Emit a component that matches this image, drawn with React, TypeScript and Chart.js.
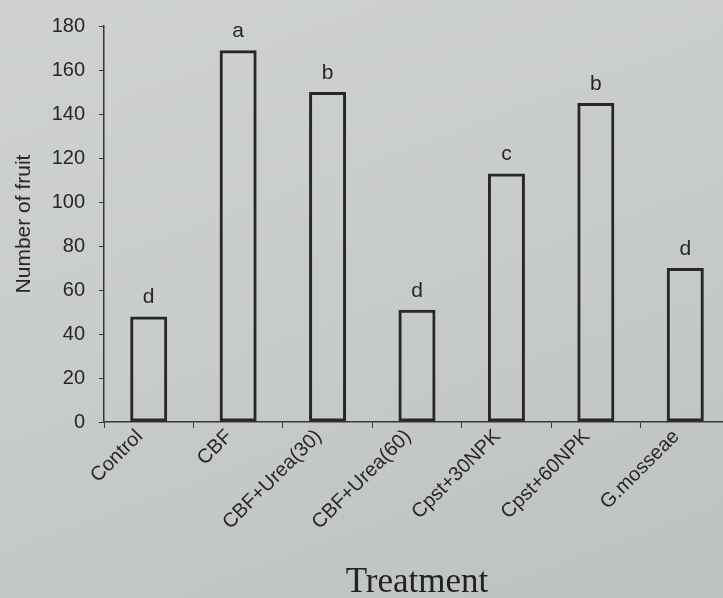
import React, { useEffect, useRef } from "react";
import { Chart, registerables } from "chart.js";

Chart.register(...registerables);

const categories = [
  "Control",
  "CBF",
  "CBF+Urea(30)",
  "CBF+Urea(60)",
  "Cpst+30NPK",
  "Cpst+60NPK",
  "G.mosseae",
];
const fruitCounts = [48, 169, 150, 51, 113, 145, 70];
const groupLetters = ["d", "a", "b", "d", "c", "b", "d"];
const yTicks = [0, 20, 40, 60, 80, 100, 120, 140, 160, 180];

const INK = "#2b2626";
const SANS = "'Liberation Sans', Arial, Helvetica, sans-serif";

const letterPlugin = {
  id: "letters",
  afterDatasetsDraw(chart: any) {
    const meta = chart.getDatasetMeta(0);
    const ctx = chart.ctx;
    ctx.save();
    ctx.fillStyle = INK;
    ctx.font = `21px ${SANS}`;
    ctx.textAlign = "center";
    ctx.textBaseline = "alphabetic";
    meta.data.forEach((bar: any, i: number) => {
      ctx.fillText(groupLetters[i], bar.x, bar.y - 13);
    });
    ctx.restore();
  },
};

export default function App() {
  const ref = useRef<HTMLCanvasElement>(null);

  useEffect(() => {
    if (!ref.current) return;
    const chart = new Chart(ref.current, {
      type: "bar",
      data: {
        labels: categories,
        datasets: [
          {
            data: fruitCounts,
            backgroundColor: "rgba(0,0,0,0)",
            borderColor: INK,
            borderWidth: 3,
            borderSkipped: false,
            categoryPercentage: 1,
            barPercentage: 0.414,
          },
        ],
      },
      options: {
        responsive: false,
        animation: false,
        devicePixelRatio: 1,
        layout: { padding: { top: 25, left: 0, right: 0, bottom: 0 } },
        plugins: {
          legend: { display: false },
          tooltip: { enabled: false },
        },
        scales: {
          x: {
            afterFit: (s: any) => {
              s.height = 176;
            },
            border: { display: true, color: "#3a3636", width: 1.5 },
            grid: {
              drawOnChartArea: false,
              drawTicks: true,
              tickLength: 6,
              color: "#3a3636",
              offset: true,
            },
            ticks: {
              minRotation: 45,
              maxRotation: 45,
              autoSkip: false,
              padding: -3,
              labelOffset: -9,
              color: INK,
              font: { family: SANS, size: 20 },
            },
            title: {
              display: true,
              text: "Treatment",
              color: "#222",
              font: {
                family: "'Liberation Serif', 'Times New Roman', serif",
                size: 35,
                lineHeight: 1,
              },
              padding: { top: 0, bottom: -2 },
            },
          },
          y: {
            min: 0,
            max: 180,
            afterFit: (s: any) => {
              s.width = 104;
            },
            afterBuildTicks: (s: any) => {
              s.ticks = yTicks.map((v) => ({ value: v }));
            },
            border: { display: true, color: "#3a3636", width: 1.5 },
            grid: {
              drawOnChartArea: false,
              drawTicks: true,
              tickLength: 5,
              color: "#3a3636",
            },
            ticks: {
              padding: 14,
              color: INK,
              font: { family: SANS, size: 20 },
            },
            title: {
              display: true,
              text: "Number of fruit",
              color: INK,
              font: { family: SANS, size: 21, lineHeight: 1.2 },
              padding: { top: 12, bottom: 0 },
            },
          },
        },
      },
      plugins: [letterPlugin],
    });
    return () => chart.destroy();
  }, []);

  return (
    <div
      style={{
        position: "fixed",
        left: 0,
        top: 0,
        width: 723,
        height: 598,
        overflow: "hidden",
        background:
          "linear-gradient(160deg, #cfd2d0 0%, #c7cbc9 50%, #bdc1bf 100%)",
      }}
    >
      <canvas
        ref={ref}
        width={730}
        height={598}
        style={{ width: 730, height: 598, display: "block" }}
      />
    </div>
  );
}
